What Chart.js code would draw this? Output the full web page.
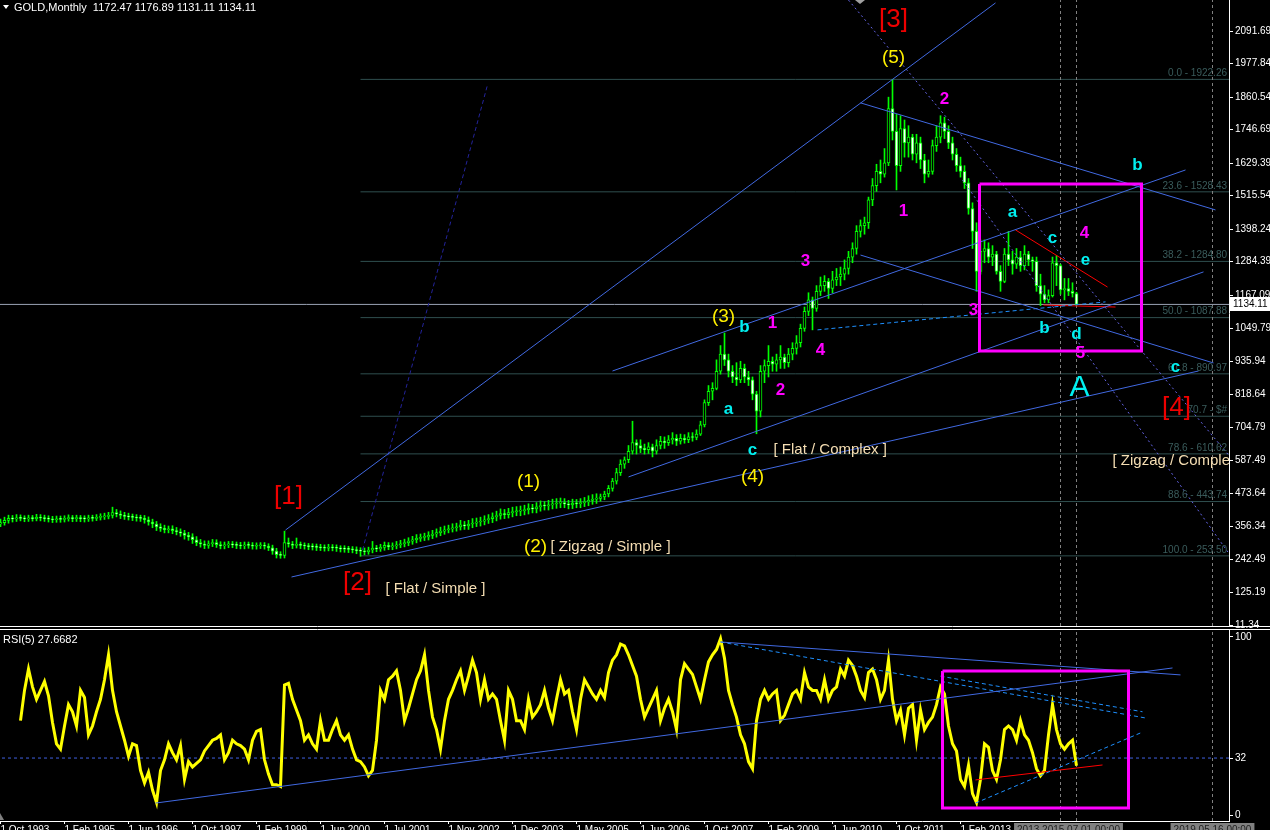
<!DOCTYPE html>
<html>
<head>
<meta charset="utf-8">
<title>GOLD, Monthly</title>
<script src="https://cdn.jsdelivr.net/npm/chart.js@4.4.1/dist/chart.umd.min.js"></script>
<style>
  html, body { margin: 0; padding: 0; background: #000; overflow: hidden; }
  #wrap { position: relative; width: 1270px; height: 830px; background: #000; }
  .box { position: absolute; left: 0; width: 1270px; }
</style>
</head>
<body>
<div id="wrap">
  <div class="box" style="top:627px;height:203px;z-index:1"><canvas id="rsi"></canvas></div>
  <div class="box" style="top:0;height:632px;z-index:2"><canvas id="main"></canvas></div>
</div>
<script>
// ---- data (bar index 0 = Oct 1993, one bar per month) ----
const firstOpen = 365;
const closes = [
  370, 378, 385, 383, 387, 385, 383, 386, 384, 388,
  386, 384, 382, 380, 383, 381, 384, 386, 384, 385,
  384, 383, 386, 385, 388, 390, 392, 395, 405, 400,
  395, 392, 390, 388, 386, 385, 380, 372, 365, 355,
  350, 345, 348, 342, 338, 333, 325, 320, 310, 300,
  295, 290, 296, 300, 293, 288, 292, 294, 292, 290,
  288, 292, 290, 287, 289, 290, 287, 282, 270, 258,
  255, 300, 295, 290, 292, 290, 288, 286, 285, 283,
  282, 280, 283, 282, 280, 278, 277, 276, 275, 272,
  270, 268, 274, 280, 278, 283, 290, 285, 288, 292,
  296, 300, 305, 310, 315, 318, 320, 325, 330, 335,
  340, 345, 348, 352, 355, 362, 358, 365, 368, 372,
  375, 380, 384, 390, 395, 402, 398, 405, 408, 410,
  412, 415, 420, 418, 425, 430, 428, 432, 435, 438,
  440, 435, 432, 438, 436, 440, 442, 448, 452, 455,
  460, 470, 490, 515, 545, 575, 590, 620, 650, 640,
  630, 625, 635, 620, 640, 655, 650, 660, 665, 655,
  665, 660, 670, 668, 680, 712, 790, 830, 840, 900,
  960, 940, 900, 880, 870, 910, 880, 870, 820, 760,
  900, 920, 935, 925, 940, 950, 930, 960, 980, 1000,
  1050, 1110, 1150, 1120, 1180, 1200, 1215, 1190, 1220, 1230,
  1240, 1260, 1300, 1330, 1390, 1410, 1420, 1500, 1550, 1600,
  1590, 1630, 1820, 1740, 1620, 1750, 1700, 1720, 1660, 1700,
  1640, 1590, 1600, 1690, 1720, 1770, 1740, 1700, 1660, 1620,
  1600, 1560, 1470, 1390, 1250, 1320, 1330, 1300, 1310, 1250,
  1215, 1310, 1290, 1275, 1300, 1270, 1310, 1290, 1285, 1200,
  1170, 1150, 1165, 1280, 1270, 1185, 1190, 1180, 1172.47, 1134.11
];
const highs = [
  382, 389, 396, 395, 398, 397, 394, 396, 395, 399,
  398, 396, 394, 392, 393, 393, 394, 397, 395, 396,
  395, 394, 396, 396, 398, 401, 403, 406, 424, 416,
  411, 406, 403, 400, 398, 396, 395, 390, 382, 374,
  366, 361, 358, 359, 353, 348, 343, 336, 331, 321,
  311, 306, 306, 311, 310, 303, 302, 304, 304, 302,
  301, 302, 302, 300, 299, 300, 300, 296, 291, 280,
  268, 340, 316, 304, 316, 302, 299, 297, 296, 295,
  294, 292, 294, 293, 292, 289, 289, 287, 286, 285,
  282, 281, 284, 304, 290, 294, 302, 300, 299, 304,
  308, 312, 317, 322, 328, 330, 333, 338, 343, 348,
  354, 358, 361, 366, 368, 378, 374, 378, 384, 386,
  389, 394, 398, 404, 410, 418, 416, 420, 424, 426,
  428, 431, 436, 434, 440, 446, 444, 448, 452, 454,
  456, 454, 448, 452, 451, 454, 458, 464, 468, 471,
  470, 480, 500, 525, 560, 590, 600, 640, 725, 660,
  660, 645, 650, 645, 660, 672, 670, 675, 685, 678,
  680, 678, 685, 685, 695, 725, 800, 850, 860, 940,
  990, 1034, 960, 920, 930, 935, 925, 900, 880, 830,
  920, 940, 990, 950, 960, 990, 960, 980, 1000, 1025,
  1065, 1125, 1175, 1160, 1200, 1230, 1235, 1225, 1250, 1260,
  1265, 1290, 1320, 1350, 1410, 1430, 1440, 1510, 1575, 1625,
  1640, 1680, 1860, 1922, 1800, 1795, 1780, 1760, 1730, 1730,
  1720, 1660, 1640, 1710, 1760, 1795, 1790, 1760, 1720, 1680,
  1650, 1620, 1575, 1490, 1420, 1360, 1360, 1350, 1340, 1320,
  1270, 1330, 1390, 1320, 1330, 1320, 1340, 1320, 1300, 1300,
  1240, 1200, 1185, 1300, 1305, 1275, 1225, 1225, 1210, 1176.89
];
const lows = [
  356, 361, 368, 372, 374, 376, 373, 374, 375, 376,
  376, 374, 372, 370, 371, 371, 372, 375, 373, 374,
  373, 372, 374, 375, 377, 379, 381, 383, 386, 390,
  384, 381, 379, 377, 375, 374, 368, 361, 352, 342,
  339, 334, 334, 331, 327, 322, 312, 308, 297, 289,
  284, 279, 280, 286, 283, 278, 278, 282, 282, 279,
  278, 278, 280, 277, 277, 279, 277, 272, 259, 246,
  245, 246, 284, 279, 281, 279, 277, 275, 274, 272,
  272, 270, 271, 271, 269, 267, 266, 265, 264, 261,
  252, 257, 259, 264, 268, 269, 273, 275, 275, 278,
  282, 285, 289, 294, 299, 304, 307, 309, 314, 319,
  324, 329, 334, 337, 340, 344, 346, 346, 352, 356,
  358, 362, 367, 370, 376, 382, 384, 386, 390, 394,
  394, 397, 400, 404, 404, 410, 414, 414, 418, 420,
  422, 422, 418, 419, 422, 422, 426, 429, 434, 437,
  445, 450, 460, 480, 505, 535, 560, 580, 610, 610,
  615, 610, 612, 600, 610, 628, 630, 640, 645, 640,
  645, 648, 650, 655, 660, 675, 705, 780, 800, 835,
  890, 920, 880, 860, 850, 860, 860, 850, 800, 681,
  740, 860, 880, 900, 900, 910, 910, 915, 940, 960,
  985, 1040, 1095, 1045, 1110, 1165, 1180, 1155, 1175, 1200,
  1200, 1220, 1240, 1280, 1310, 1370, 1380, 1400, 1480, 1530,
  1560, 1580, 1620, 1710, 1535, 1600, 1650, 1650, 1640, 1630,
  1610, 1560, 1580, 1590, 1670, 1700, 1715, 1680, 1640, 1600,
  1580, 1540, 1450, 1330, 1180, 1240, 1280, 1280, 1270, 1240,
  1180, 1210, 1270, 1240, 1260, 1250, 1255, 1270, 1250, 1180,
  1130, 1140, 1140, 1160, 1200, 1170, 1150, 1165, 1160, 1131.11
];
// RSI(5), first five bars have no value
const rsiValues = [
  null, null, null, null, null, 53, 70, 82, 72, 65,
  70, 75, 67, 52, 40, 37, 50, 62, 58, 50,
  70, 66, 45, 50, 58, 65, 76, 90, 70, 58,
  50, 42, 33, 40, 39, 25, 18, 24, 14, 7,
  25, 31, 40, 35, 31, 39, 20, 30, 27, 29,
  31, 36, 39, 42, 43, 45, 31, 35, 42, 40,
  39, 37, 31, 42, 47, 48, 31, 23, 17, 17,
  16, 73, 74, 65, 59, 53, 42, 45, 40, 37,
  53, 42, 42, 48, 53, 45, 42, 45, 37, 31,
  30, 27, 22, 25, 42, 70, 65, 76, 78, 81,
  70, 53, 60, 68, 76, 81, 90, 70, 55, 48,
  37, 53, 65, 70, 76, 81, 70, 78, 87, 80,
  65, 76, 65, 68, 65, 53, 42, 70, 65, 53,
  53, 48, 65, 55, 58, 62, 70, 60, 53, 65,
  76, 68, 70, 58, 48, 65, 76, 72, 68, 65,
  70, 66, 80, 87, 90, 96, 95, 90, 84, 78,
  65, 55, 60, 65, 70, 53, 60, 65, 58, 48,
  76, 85, 82, 79, 72, 65, 76, 86, 90, 93,
  99, 88, 70, 62, 55, 45, 40, 30, 26, 53,
  65, 70, 65, 68, 70, 53, 56, 62, 68, 70,
  65, 80, 72, 70, 70, 65, 76, 65, 70, 72,
  82, 78, 87, 84, 78, 70, 66, 80, 82, 76,
  65, 70, 87, 65, 53, 59, 45, 60, 62, 42,
  59, 48, 52, 55, 62, 72, 68, 50, 40, 36,
  20, 16, 28, 12, 7, 20, 40, 38, 25, 20,
  31, 48, 50, 48, 42, 53, 45, 42, 35, 26,
  22, 25, 45, 62, 48, 40, 37, 40, 42, 27.6682
];
const priceTicks = [2091.69, 1977.84, 1860.54, 1746.69, 1629.39, 1515.54, 1398.24, 1284.39,
  1167.09, 1049.79, 935.94, 818.64, 704.79, 587.49, 473.64, 356.34, 242.49, 125.19, 11.34];
const rsiTicks = [0, 32, 100];
const dateTickIndex = [0, 16, 32, 48, 64, 80, 96, 112, 128, 144, 160, 176, 192, 208, 224, 240];
const dateTickLabels = ['1 Oct 1993', '1 Feb 1995', '1 Jun 1996', '1 Oct 1997', '1 Feb 1999',
  '1 Jun 2000', '1 Jul 2001', '1 Nov 2002', '1 Dec 2003', '1 May 2005', '1 Jun 2006',
  '1 Oct 2007', '1 Feb 2009', '1 Jun 2010', '1 Oct 2011', '1 Feb 2013'];
const fibLevels = [1922.26, 1528.43, 1284.80, 1087.88, 890.97, 742.4, 610.62, 443.74, 253.50];
const fibLabels = ['0.0 - 1922.26', '23.6 - 1528.43', '38.2 - 1284.80', '50.0 - 1087.88',
  '61.8 - 890.97', '70.7 - $#', '78.6 - 610.62', '88.6 - 443.74', '100.0 - 253.50'];
const lastPrice = 1134.11;
const rsiLevel = 32;
const vLines = [265, 269, 303];

// ---- drawn objects, in (bar index, price) ----
const BLUE = '#4169E1', DOT = '#6464E6', DARK = '#23239B', DASH = '#1E90FF';
const trendLines = [
  [[71.25, 344], [248.75, 2190], BLUE, []],
  [[90.5, 274], [121.75, 1903], DARK, [4, 3]],
  [[72.75, 179.5], [299.5, 901], BLUE, []],
  [[157, 530], [300.75, 1248], BLUE, []],
  [[153, 901], [296.25, 1605], BLUE, []],
  [[215, 1840], [303.75, 1465], BLUE, []],
  [[215, 1307], [303.25, 929], BLUE, []],
  [[204.25, 1045], [276.25, 1143], DASH, [4, 3]],
  [[212, 2200], [307, 607], DOT, [2, 3]],
  [[240.5, 1570], [307, 264], DOT, [2, 3]],
  [[253.75, 1395], [276.75, 1195], '#FF0000', []],
  [[260.75, 1132], [278.75, 1125], '#FF0000', []]
];
const boxMain = [[244.75, 1556], [285.25, 971]];
const rsiLines = [
  [[38.75, 6.7], [293, 82.6], BLUE, []],
  [[180, 97.2], [295, 78.7], BLUE, []],
  [[180, 97.2], [286.25, 54.5], DASH, [4, 3]],
  [[235, 78], [285.5, 58], DASH, [4, 3]],
  [[243.75, 6.7], [285, 46.1], DASH, [4, 3]],
  [[243.75, 19.7], [275.5, 28.1], '#FF0000', []]
];
const boxRsi = [[235.5, 80.9], [282, 3.9]];

const RED = '#EE0000', YEL = '#FFF000', MAG = '#FF00FF', CYA = '#00F0F0', WHEAT = '#F5DEB3';
const waveLabels = [
  ['[1]', 72, 460, RED, '26px'], ['[2]', 89.25, 158, RED, '26px'],
  ['[3]', 223.25, 2130, RED, '26px'], ['[4]', 294, 771, RED, '26px'],
  ['(1)', 132, 512, YEL, '19px'], ['(2)', 133.75, 284, YEL, '19px'],
  ['(3)', 180.75, 1090, YEL, '19px'], ['(4)', 188, 530, YEL, '19px'],
  ['(5)', 223.25, 1997, YEL, '19px'],
  ['1', 193, 1069, MAG, 'bold 17px'], ['2', 195, 834, MAG, 'bold 17px'],
  ['3', 201.25, 1286, MAG, 'bold 17px'], ['4', 205, 974, MAG, 'bold 17px'],
  ['1', 225.75, 1461, MAG, 'bold 17px'], ['2', 236, 1853, MAG, 'bold 17px'],
  ['3', 243.25, 1115, MAG, 'bold 17px'], ['4', 271, 1384, MAG, 'bold 17px'],
  ['5', 270, 964, MAG, 'bold 17px'],
  ['b', 186, 1055, CYA, 'bold 17px'], ['a', 182, 768, CYA, 'bold 17px'],
  ['c', 188, 624, CYA, 'bold 17px'], ['a', 253, 1458, CYA, 'bold 17px'],
  ['c', 263, 1367, CYA, 'bold 17px'], ['e', 271.25, 1290, CYA, 'bold 17px'],
  ['b', 261, 1052, CYA, 'bold 17px'], ['d', 269, 1031, CYA, 'bold 17px'],
  ['b', 284.25, 1622, CYA, 'bold 17px'], ['c', 293.75, 915, CYA, 'bold 17px'],
  ['A', 269.75, 841, CYA, '30px']
];
const patternLabels = [
  ['[ Zigzag / Simple ]', 137.5, 284.5], ['[ Flat / Simple ]', 96.25, 137],
  ['[ Flat / Complex ]', 193.25, 624], ['[ Zigzag / Complex ]', 278, 586]
];

Chart.defaults.font.family = '"Liberation Sans", Arial, sans-serif';
Chart.defaults.font.size = 10;
Chart.defaults.color = '#FFFFFF';

const idx = closes.map((_, i) => i);
const opens = closes.map((c, i) => (i === 0 ? firstOpen : closes[i - 1]));
const X_MIN = -0.125, X_MAX = 307.125;
const P_MIN = 7.84, P_MAX = 2200.28;
const R_MIN = -3.37, R_MAX = 104.49;

function seg(pts, color, dash, width, order) {
  return {
    type: 'line',
    data: pts.map(p => ({ x: p[0], y: p[1] })),
    borderColor: color, borderWidth: width || 1, borderDash: dash || [],
    pointRadius: 0, fill: false, tension: 0, order: order == null ? 1 : order
  };
}
function rect(b, color) {
  const [a, c] = b;
  return seg([[a[0], a[1]], [c[0], a[1]], [c[0], c[1]], [a[0], c[1]], [a[0], a[1]]], color, [], 3, 0);
}

// fixed-width right axis; no extra padding for the outer labels
const rightAxis = (min, max, ticks, fmt) => ({
  position: 'right', min: min, max: max,
  afterFit: s => { s.width = 41; s.paddingTop = 0; s.paddingBottom = 0; },
  afterBuildTicks: s => { s.ticks = ticks.map(v => ({ value: v })); },
  ticks: { callback: fmt, padding: 2, autoSkip: false, color: '#FFFFFF' },
  grid: { drawOnChartArea: false, drawTicks: true, tickLength: 4, color: '#FFFFFF' },
  border: { color: '#FFFFFF', width: 1 }
});

// ---- main price chart (canvas a little taller so the 11.34 label is not cut) ----
const mainPlugin = {
  id: 'mainOverlay',
  afterDatasetsDraw(chart) {
    const { ctx, chartArea: a, scales: { x, y } } = chart;
    ctx.save();
    ctx.beginPath();
    ctx.rect(a.left, a.top, a.right - a.left, a.bottom - a.top);
    ctx.clip();
    ctx.font = '10px "Liberation Sans"';
    ctx.fillStyle = '#3A5C5C';
    ctx.textAlign = 'right';
    ctx.textBaseline = 'bottom';
    fibLevels.forEach((v, k) => ctx.fillText(fibLabels[k], a.right - 2, y.getPixelForValue(v) - 1));
    ctx.textBaseline = 'middle';
    ctx.textAlign = 'left';
    ctx.fillStyle = WHEAT;
    ctx.font = '15px "Liberation Sans"';
    patternLabels.forEach(l => ctx.fillText(l[0], x.getPixelForValue(l[1]), y.getPixelForValue(l[2])));
    ctx.textAlign = 'center';
    waveLabels.forEach(l => {
      ctx.font = l[4] + ' "Liberation Sans"';
      ctx.fillStyle = l[3];
      ctx.fillText(l[0], x.getPixelForValue(l[1]), y.getPixelForValue(l[2]));
    });
    ctx.restore();
  },
  afterDraw(chart) {
    const { ctx, chartArea: a, scales: { y } } = chart;
    ctx.save();
    ctx.strokeStyle = '#FFFFFF';
    ctx.lineWidth = 1;
    ctx.beginPath();
    ctx.moveTo(0, a.bottom + 0.5);
    ctx.lineTo(chart.width, a.bottom + 0.5);
    ctx.stroke();
    // header
    ctx.fillStyle = '#FFFFFF';
    ctx.beginPath();
    ctx.moveTo(3, 5); ctx.lineTo(9, 5); ctx.lineTo(6, 9); ctx.closePath();
    ctx.fill();
    ctx.font = '11px "Liberation Sans"';
    ctx.textAlign = 'left';
    ctx.textBaseline = 'middle';
    ctx.fillText('GOLD,Monthly  1172.47 1176.89 1131.11 1134.11', 14, 8);
    // last price box
    const py = Math.round(y.getPixelForValue(lastPrice));
    ctx.fillStyle = '#FFFFFF';
    ctx.fillRect(a.right + 1, py - 7, chart.width - a.right - 1, 14);
    ctx.fillStyle = '#000000';
    ctx.font = '10px "Liberation Sans"';
    ctx.fillText(lastPrice.toFixed(2), a.right + 4, py);
    // chart shift marker
    ctx.fillStyle = '#A0A0A0';
    ctx.beginPath();
    ctx.moveTo(855, 0); ctx.lineTo(865, 0); ctx.lineTo(860, 4); ctx.closePath();
    ctx.fill();
    ctx.restore();
  }
};

const mainDatasets = [
  ...fibLevels.map(v => seg([[90, v], [X_MAX + 1, v]], '#2F4F4F', [], 1, 10)),
  seg([[X_MIN - 1, lastPrice], [X_MAX + 1, lastPrice]], '#9AA3B5', [], 1, 9),
  ...vLines.map(v => seg([[v, P_MIN], [v, P_MAX]], '#808080', [3, 3], 1, 8)),
  {
    type: 'bar', data: idx.map(i => ({ x: i, y: [lows[i], highs[i]] })),
    backgroundColor: '#00FF00', barThickness: 1, grouped: false, order: 5
  },
  {
    type: 'bar', data: idx.map(i => ({ x: i, y: [opens[i], closes[i]] })),
    backgroundColor: idx.map(i => (closes[i] > opens[i] ? '#000000' : '#FFFFFF')),
    borderColor: '#00FF00', borderWidth: 1, borderSkipped: false,
    barThickness: 3, minBarLength: 1, grouped: false, order: 4
  },
  ...trendLines.map(t => seg([t[0], t[1]], t[2], t[3], 1, 1)),
  rect(boxMain, '#FF00FF')
];

new Chart(document.getElementById('main'), {
  type: 'bar',
  data: { datasets: mainDatasets },
  options: {
    responsive: true, maintainAspectRatio: false, animation: false, devicePixelRatio: 1,
    layout: { padding: { top: 0, bottom: 6, left: 0, right: 0 } },
    plugins: { legend: { display: false }, tooltip: { enabled: false } },
    scales: {
      x: { type: 'linear', min: X_MIN, max: X_MAX, offset: false, display: false },
      y: rightAxis(P_MIN, P_MAX, priceTicks, v => Number(v).toFixed(2))
    }
  },
  plugins: [mainPlugin]
});

// ---- RSI panel ----
const rsiPlugin = {
  id: 'rsiOverlay',
  afterDraw(chart) {
    const { ctx, chartArea: a, scales: { x } } = chart;
    ctx.save();
    ctx.strokeStyle = '#FFFFFF';
    ctx.lineWidth = 1;
    ctx.beginPath();
    ctx.moveTo(0, a.top + 0.5);
    ctx.lineTo(chart.width, a.top + 0.5);
    ctx.stroke();
    ctx.fillStyle = '#FFFFFF';
    ctx.font = '11px "Liberation Sans"';
    ctx.textAlign = 'left';
    ctx.textBaseline = 'middle';
    ctx.fillText('RSI(5) 27.6682', 3, a.top + 11);
    // time labels of the vertical lines
    const boxes = [[vLines[0], vLines[1], '2013.2015.07.01 00:00'], [vLines[2], vLines[2], '2019.05.16 00:00']];
    ctx.font = '10px "Liberation Sans"';
    ctx.textAlign = 'center';
    boxes.forEach(b => {
      const cx = (x.getPixelForValue(b[0]) + x.getPixelForValue(b[1])) / 2;
      const w = ctx.measureText(b[2]).width + 6;
      ctx.fillStyle = '#808080';
      ctx.fillRect(cx - w / 2, a.bottom + 2, w, 14);
      ctx.fillStyle = '#202020';
      ctx.fillText(b[2], cx, a.bottom + 9);
    });
    ctx.fillStyle = '#808080';
    ctx.beginPath();
    ctx.moveTo(0, a.bottom - 8); ctx.lineTo(0, a.bottom - 1); ctx.lineTo(4, a.bottom - 1); ctx.closePath();
    ctx.fill();
    ctx.restore();
  }
};

const rsiDatasets = [
  seg([[X_MIN - 1, rsiLevel], [X_MAX + 1, rsiLevel]], '#3F5FDF', [3, 3], 1, 10),
  ...vLines.map(v => seg([[v, R_MIN], [v, R_MAX]], '#808080', [3, 3], 1, 8)),
  {
    type: 'line',
    data: idx.filter(i => rsiValues[i] != null).map(i => ({ x: i, y: rsiValues[i] })),
    borderColor: '#FFFF00', borderWidth: 3, pointRadius: 0, tension: 0, fill: false, order: 5
  },
  ...rsiLines.map(t => seg([t[0], t[1]], t[2], t[3], 1, 1)),
  rect(boxRsi, '#FF00FF')
];

new Chart(document.getElementById('rsi'), {
  type: 'line',
  data: { datasets: rsiDatasets },
  options: {
    responsive: true, maintainAspectRatio: false, animation: false, devicePixelRatio: 1,
    layout: { padding: { top: 2, bottom: 0, left: 0, right: 0 } },
    plugins: { legend: { display: false }, tooltip: { enabled: false } },
    scales: {
      x: {
        type: 'linear', min: X_MIN, max: X_MAX, offset: false,
        afterFit: s => { s.height = 9; s.paddingLeft = 0; s.paddingRight = 0; },
        afterBuildTicks: s => { s.ticks = dateTickIndex.map(v => ({ value: v })); },
        ticks: {
          align: 'start', maxRotation: 0, autoSkip: false, padding: 0, color: '#FFFFFF',
          callback: v => dateTickLabels[dateTickIndex.indexOf(v)]
        },
        grid: { drawOnChartArea: false, drawTicks: true, tickLength: 3, color: '#FFFFFF' },
        border: { color: '#FFFFFF' }
      },
      y: rightAxis(R_MIN, R_MAX, rsiTicks, v => String(v))
    }
  },
  plugins: [rsiPlugin]
});
</script>
</body>
</html>
